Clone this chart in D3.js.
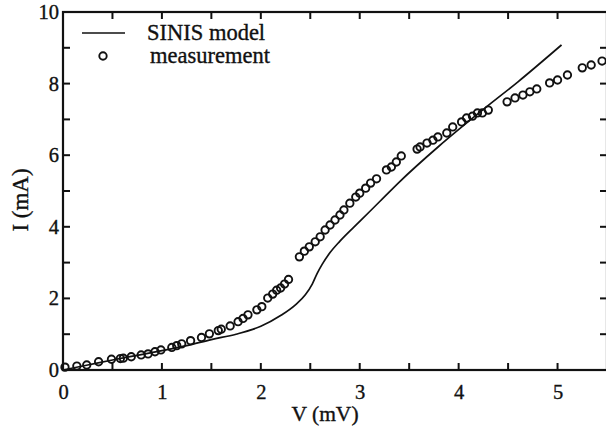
<!DOCTYPE html>
<html>
<head>
<meta charset="utf-8">
<script src="https://cdn.jsdelivr.net/npm/d3@7"></script>
<style>
  body { margin: 0; background: #fff; }
  svg text { font-family: "Liberation Serif", "DejaVu Serif", serif; fill: #111; stroke: #111; stroke-width: 0.35px; }
</style>
</head>
<body>
<div id="chart"></div>
<script>
// measured points, V (mV) and I (mA)
var measV = [0.02, 0.14, 0.24, 0.36, 0.49, 0.58, 0.61, 0.69, 0.79, 0.86, 0.93, 0.99,
  1.10, 1.15, 1.20, 1.29, 1.40, 1.48, 1.57, 1.60, 1.69, 1.77, 1.82, 1.87, 1.96, 2.01,
  2.07, 2.12, 2.16, 2.20, 2.24, 2.28,
  2.39, 2.44, 2.49, 2.55, 2.60, 2.65, 2.70, 2.75, 2.80, 2.84, 2.90, 2.96, 3.00, 3.06,
  3.11, 3.17, 3.27, 3.32, 3.37, 3.42,
  3.58, 3.61, 3.68, 3.74, 3.79, 3.88, 3.94, 4.03, 4.08, 4.14, 4.19, 4.24, 4.30,
  4.49, 4.57, 4.65, 4.72, 4.79, 4.92, 5.00, 5.10, 5.25, 5.34, 5.45];
var measI = [0.08, 0.11, 0.14, 0.23, 0.30, 0.32, 0.33, 0.37, 0.42, 0.45, 0.51, 0.56,
  0.63, 0.68, 0.73, 0.82, 0.91, 1.01, 1.10, 1.14, 1.23, 1.35, 1.44, 1.54, 1.68, 1.77,
  2.01, 2.12, 2.23, 2.29, 2.40, 2.53,
  3.16, 3.32, 3.44, 3.58, 3.72, 3.91, 4.05, 4.19, 4.33, 4.47, 4.66, 4.83, 4.94, 5.08,
  5.22, 5.34, 5.59, 5.67, 5.81, 5.98,
  6.17, 6.23, 6.34, 6.42, 6.51, 6.62, 6.79, 6.93, 7.04, 7.09, 7.18, 7.18, 7.26,
  7.49, 7.60, 7.68, 7.77, 7.85, 8.02, 8.10, 8.24, 8.44, 8.52, 8.63];

// SINIS model curve
var modelV = [0, 0.25, 0.5, 0.75, 1.0, 1.25, 1.5, 1.75, 2.0, 2.2, 2.35, 2.45, 2.52,
  2.57, 2.62, 2.7, 2.8, 3.0, 3.2, 3.4, 3.8, 4.25, 4.6, 5.04];
var modelI = [0, 0.14, 0.28, 0.41, 0.54, 0.68, 0.85, 1.0, 1.22, 1.52, 1.82, 2.1, 2.4,
  2.7, 2.95, 3.28, 3.6, 4.15, 4.7, 5.25, 6.25, 7.28, 8.05, 9.08];

var xTicks = [0, 1, 2, 3, 4, 5];
var yTicks = [0, 2, 4, 6, 8, 10];

var svgWidth = 606;
var svgHeight = 427;

var svg = d3.select("#chart")
  .append("svg")
  .attr("width", svgWidth)
  .attr("height", svgHeight);

var x = d3.scaleLinear().domain([0, 5.5]).range([63, 607]);
var y = d3.scaleLinear().domain([0, 10]).range([370, 12]);

var measured = measV.map((v, i) => ({ v: v, i: measI[i] }));
var model = modelV.map((v, i) => ({ v: v, i: modelI[i] }));

// frame with inward ticks on all four sides
var minorX = d3.range(0, 5.51, 0.5);
var minorY = d3.range(0, 10.01, 1);

svg.append("g")
  .attr("transform", `translate(0, ${y(0)})`)
  .call(d3.axisBottom(x).tickValues(xTicks).tickSize(0).tickPadding(14).tickFormat(d3.format("d")))
  .call(g => g.select(".domain").remove());

svg.append("g")
  .attr("transform", `translate(${x(0)}, 0)`)
  .call(d3.axisLeft(y).tickValues(yTicks).tickSize(0).tickPadding(4).tickFormat(d3.format("d")))
  .call(g => g.select(".domain").remove());

svg.selectAll(".tick text")
  .style("font-size", "20.5px")
  .style("font-family", "'Liberation Serif', serif");

var tickLen = 7;
var ticks = svg.append("g").attr("stroke", "#111").attr("stroke-width", 2);

ticks.selectAll(".tb").data(minorX).enter().append("line")
  .attr("x1", d => x(d)).attr("x2", d => x(d))
  .attr("y1", y(0)).attr("y2", y(0) - tickLen);
ticks.selectAll(".tt").data(minorX).enter().append("line")
  .attr("x1", d => x(d)).attr("x2", d => x(d))
  .attr("y1", y(10)).attr("y2", y(10) + tickLen);
ticks.selectAll(".tl").data(minorY).enter().append("line")
  .attr("x1", x(0)).attr("x2", x(0) + tickLen)
  .attr("y1", d => y(d)).attr("y2", d => y(d));
ticks.selectAll(".tr").data(minorY).enter().append("line")
  .attr("x1", x(5.5)).attr("x2", x(5.5) - tickLen)
  .attr("y1", d => y(d)).attr("y2", d => y(d));

svg.append("rect")
  .attr("x", x(0)).attr("y", y(10))
  .attr("width", x(5.5) - x(0)).attr("height", y(0) - y(10))
  .attr("fill", "none").attr("stroke", "#111").attr("stroke-width", 2.2);

// model line
var line = d3.line()
  .x(d => x(d.v))
  .y(d => y(d.i))
  .curve(d3.curveMonotoneX);

svg.append("path")
  .datum(model)
  .attr("d", line)
  .attr("fill", "none")
  .attr("stroke", "#111")
  .attr("stroke-width", 1.7);

// measurement circles
svg.append("g").selectAll("circle")
  .data(measured)
  .enter()
  .append("circle")
  .attr("cx", d => x(d.v))
  .attr("cy", d => y(d.i))
  .attr("r", 3.7)
  .attr("fill", "none")
  .attr("stroke", "#111")
  .attr("stroke-width", 1.9);

// legend
svg.append("line")
  .attr("x1", 82).attr("x2", 125)
  .attr("y1", 33).attr("y2", 33)
  .attr("stroke", "#111").attr("stroke-width", 1.7);
svg.append("text")
  .attr("x", 147).attr("y", 40)
  .attr("font-size", "22.5px")
  .text("SINIS model");
svg.append("circle")
  .attr("cx", 103).attr("cy", 56).attr("r", 3.7)
  .attr("fill", "none").attr("stroke", "#111").attr("stroke-width", 1.9);
svg.append("text")
  .attr("x", 150).attr("y", 63)
  .attr("font-size", "22.5px")
  .text("measurement");

// axis titles
svg.append("text")
  .attr("x", 325).attr("y", 421)
  .attr("text-anchor", "middle")
  .attr("font-size", "21.5px")
  .text("V (mV)");

svg.append("text")
  .attr("transform", "translate(28, 200) rotate(-90)")
  .attr("text-anchor", "middle")
  .attr("font-size", "23px")
  .text("I (mA)");
</script>
</body>
</html>
